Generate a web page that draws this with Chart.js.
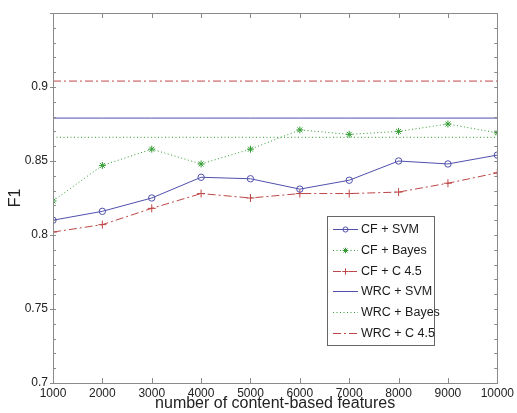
<!DOCTYPE html>
<html>
<head>
<meta charset="utf-8">
<script src="https://cdn.jsdelivr.net/npm/chart.js@4.4.1/dist/chart.umd.min.js"></script>
<style>
  html, body { margin: 0; padding: 0; background: #fff; }
  #wrap { width: 517px; height: 413px; }
</style>
</head>
<body>
<div id="wrap"><canvas id="f1chart" width="517" height="413"></canvas></div>
<script>
// values
var features = [1000, 2000, 3000, 4000, 5000, 6000, 7000, 8000, 9000, 10000];
var cfSvm   = [0.810, 0.816, 0.825, 0.839, 0.838, 0.831, 0.837, 0.850, 0.848, 0.854];
var cfBayes = [0.823, 0.847, 0.858, 0.848, 0.858, 0.871, 0.868, 0.870, 0.875, 0.869];
var cfC45   = [0.802, 0.807, 0.818, 0.828, 0.825, 0.828, 0.828, 0.829, 0.835, 0.842];
var wrcSvm   = [0.879, 0.879, 0.879, 0.879, 0.879, 0.879, 0.879, 0.879, 0.879, 0.879];
var wrcBayes = [0.866, 0.866, 0.866, 0.866, 0.866, 0.866, 0.866, 0.866, 0.866, 0.866];
var wrcC45   = [0.904, 0.904, 0.904, 0.904, 0.904, 0.904, 0.904, 0.904, 0.904, 0.904];
var seriesNames = ['CF + SVM', 'CF + Bayes', 'CF + C 4.5', 'WRC + SVM', 'WRC + Bayes', 'WRC + C 4.5'];
var yMajorTicks = [0.7, 0.75, 0.8, 0.85, 0.9];

var BLUE = 'rgb(80,80,172)';
var GREEN = 'rgb(50,155,50)';
var RED = 'rgb(190,70,70)';
var DOT = [1, 2.5];
var DASHDOT = [8, 3, 2, 3];

function pts(arr) {
    return arr.map(function (v, i) { return { x: features[i], y: v }; });
}

function ds(label, values, color, dash, pstyle, prad) {
    return {
        label: label,
        data: pts(values),
        borderColor: color,
        backgroundColor: color,
        borderWidth: 1,
        borderDash: dash,
        pointStyle: pstyle || 'circle',
        pointRadius: prad || 0,
        pointBorderColor: color,
        pointBackgroundColor: 'rgba(0,0,0,0)',
        pointBorderWidth: 1,
        tension: 0
    };
}

var datasets = [
    ds(seriesNames[0], cfSvm, BLUE, [], 'circle', 3.2),
    ds(seriesNames[1], cfBayes, GREEN, DOT, 'star', 3.5),
    ds(seriesNames[2], cfC45, RED, DASHDOT, 'cross', 4),
    ds(seriesNames[3], wrcSvm, BLUE, []),
    ds(seriesNames[4], wrcBayes, GREEN, DOT),
    ds(seriesNames[5], wrcC45, RED, DASHDOT)
];

// box, inward tick marks and the legend in the lower right
var matlabFrame = {
    id: 'matlabFrame',
    afterDraw: function (chart) {
        var ctx = chart.ctx;
        var a = chart.chartArea;
        var xs = chart.scales.x, ys = chart.scales.y;
        ctx.save();
        ctx.strokeStyle = '#8a8a8a';
        ctx.lineWidth = 1;
        ctx.setLineDash([]);
        ctx.strokeRect(Math.round(a.left) + 0.5, Math.round(a.top) + 0.5,
            Math.round(a.right - a.left), Math.round(a.bottom - a.top));
        ctx.beginPath();
        features.forEach(function (f) {
            var px = Math.round(xs.getPixelForValue(f)) + 0.5;
            ctx.moveTo(px, a.bottom); ctx.lineTo(px, a.bottom - 5);
            ctx.moveTo(px, a.top); ctx.lineTo(px, a.top + 5);
        });
        for (var k = 70; k <= 95; k++) {
            var v = k / 100;
            var py = Math.round(ys.getPixelForValue(v)) + 0.5;
            var major = (k % 5 === 0);
            ctx.moveTo(a.left - (major ? 3 : 0), py); ctx.lineTo(a.left + 3, py);
            ctx.moveTo(a.right, py); ctx.lineTo(a.right - 3, py);
        }
        ctx.stroke();

        // legend
        var lx = 327, ly = 216, lw = 107, lh = 129;
        ctx.fillStyle = '#fff';
        ctx.fillRect(lx, ly, lw, lh);
        ctx.strokeStyle = '#666';
        ctx.strokeRect(lx + 0.5, ly + 0.5, lw, lh);
        ctx.font = '12.5px "Liberation Sans", Arial, sans-serif';
        ctx.textBaseline = 'middle';
        chart.data.datasets.forEach(function (d, i) {
            var y = Math.round(ly + 13 + i * 20.8) + 0.5;
            ctx.strokeStyle = d.borderColor;
            ctx.setLineDash(d.borderDash);
            ctx.beginPath();
            ctx.moveTo(lx + 6, y);
            ctx.lineTo(lx + 31, y);
            ctx.stroke();
            ctx.setLineDash([]);
            if (d.pointRadius > 0) {
                ctx.fillStyle = 'rgba(0,0,0,0)';
                Chart.helpers.drawPoint(ctx, {
                    pointStyle: d.pointStyle,
                    radius: d.pointRadius * 0.8,
                    borderWidth: 1,
                    rotation: 0
                }, lx + 18.5, y);
            }
            ctx.fillStyle = '#1a1a1a';
            ctx.fillText(d.label, lx + 34, y + 0.5);
        });
        ctx.restore();
    }
};

new Chart(document.getElementById('f1chart'), {
    type: 'line',
    data: { datasets: datasets },
    options: {
        responsive: false,
        animation: false,
        layout: { padding: { top: 13, right: 17, left: 0, bottom: 0 } },
        plugins: { legend: { display: false }, tooltip: { enabled: false } },
        scales: {
            x: {
                type: 'linear',
                min: 1000,
                max: 10000,
                afterBuildTicks: function (scale) {
                    scale.ticks = features.map(function (f) { return { value: f }; });
                },
                afterFit: function (scale) { scale.height = 30; },
                grid: { display: false, drawTicks: false },
                border: { display: false },
                ticks: {
                    autoSkip: false,
                    maxRotation: 0,
                    padding: 3,
                    color: '#222',
                    font: { family: '"Liberation Sans", Arial, sans-serif', size: 12 },
                    callback: function (v) { return String(v); }
                },
                title: {
                    display: true,
                    text: 'number of content-based features',
                    color: '#222',
                    padding: { top: 0, bottom: 0 },
                    font: { family: '"Liberation Sans", Arial, sans-serif', size: 16 }
                }
            },
            y: {
                min: 0.7,
                max: 0.95,
                afterBuildTicks: function (scale) {
                    scale.ticks = yMajorTicks.map(function (t) { return { value: t }; });
                },
                afterFit: function (scale) { scale.width = 53; },
                grid: { display: false, drawTicks: false },
                border: { display: false },
                ticks: {
                    autoSkip: false,
                    padding: 5,
                    color: '#222',
                    font: { family: '"Liberation Sans", Arial, sans-serif', size: 12 },
                    callback: function (v) { return String(Math.round(v * 100) / 100); }
                },
                title: {
                    display: true,
                    text: 'F1',
                    color: '#222',
                    padding: { top: 6, bottom: 0 },
                    font: { family: '"Liberation Sans", Arial, sans-serif', size: 16 }
                }
            }
        }
    },
    plugins: [matlabFrame]
});
</script>
</body>
</html>
